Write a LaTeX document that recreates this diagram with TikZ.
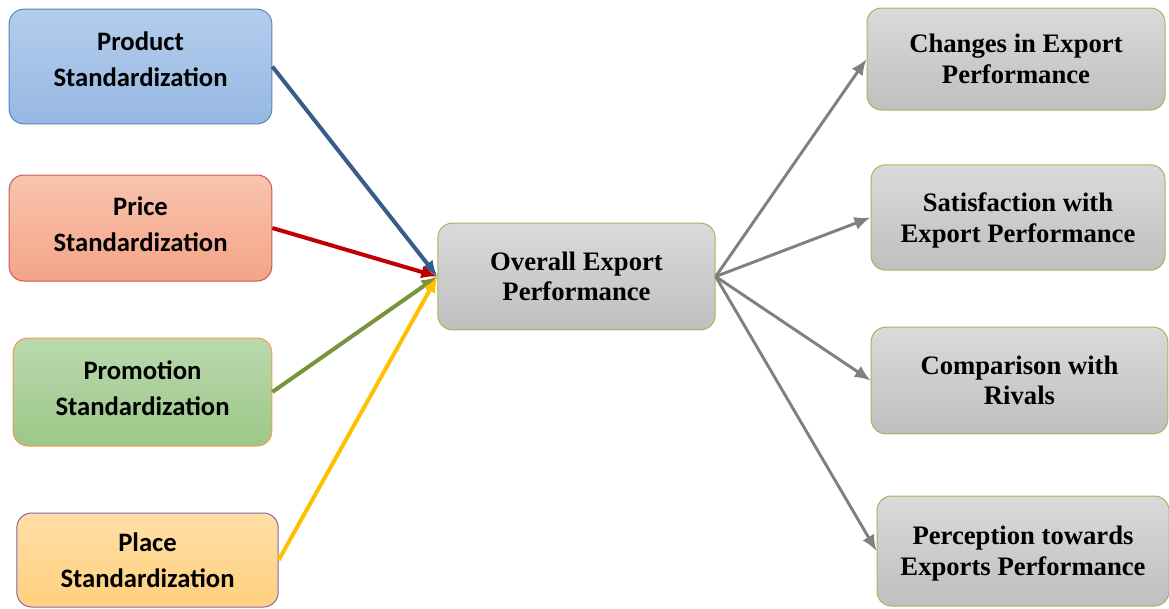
\documentclass[tikz,border=0pt]{standalone}
\usepackage{fontspec}
\setmainfont{Liberation Serif}
\newfontfamily\calibri{Carlito}
\usetikzlibrary{arrows.meta,positioning}
\definecolor{prodtop}{HTML}{B4CDEC}
\definecolor{prodbot}{HTML}{96B8E2}
\definecolor{prodline}{HTML}{5685C2}
\definecolor{pricetop}{HTML}{F8C4AF}
\definecolor{pricebot}{HTML}{F4A486}
\definecolor{priceline}{HTML}{C9595A}
\definecolor{promotop}{HTML}{BAD9AD}
\definecolor{promobot}{HTML}{9CC789}
\definecolor{promoline}{HTML}{F79A52}
\definecolor{placetop}{HTML}{FFDFA6}
\definecolor{placebot}{HTML}{FFD07E}
\definecolor{placeline}{HTML}{8467A6}
\definecolor{greytop}{HTML}{DADADA}
\definecolor{greybot}{HTML}{BFBFBF}
\definecolor{greyline}{HTML}{9BBB59}
\definecolor{arrblue}{HTML}{385D8A}
\definecolor{arrred}{HTML}{C00000}
\definecolor{arrgreen}{HTML}{77933C}
\definecolor{arryellow}{HTML}{FFC000}
\definecolor{arrgrey}{HTML}{808080}
\tikzset{%
	driver/.style  = {draw, rectangle, rounded corners=11pt, line width=0.75pt, align=center, inner sep=0pt,
	                  font=\calibri\bfseries\fontsize{20}{27}\selectfont},
	outcome/.style = {draw=greyline, rectangle, rounded corners=11pt, line width=0.75pt, align=center, inner sep=0pt,
	                  top color=greytop, bottom color=greybot, font=\bfseries\fontsize{20}{23}\selectfont},
	arrow/.style   = {line width=3pt, -{Latex[length=12pt,width=10pt]}},
	outarrow/.style= {line width=2.2pt, arrgrey, -{Latex[length=12pt,width=10pt]}},
}

\begin{document}
\begin{tikzpicture}[x=0.75pt,y=-0.75pt]
	\useasboundingbox (0,0) rectangle (1169,608);
	% marketing mix standardization
	\node[driver, draw=prodline, top color=prodtop, bottom color=prodbot, minimum width=197pt, minimum height=86pt, text depth=10.5pt] (prod) at (140.5,66.5) {Product\\Standardization};
	\node[driver, draw=priceline, top color=pricetop, bottom color=pricebot, minimum width=197pt, minimum height=79.5pt, text depth=6pt] (price) at (140.5,228) {Price\\Standardization};
	\node[driver, draw=promoline, top color=promotop, bottom color=promobot, minimum width=194pt, minimum height=81pt, text depth=6pt] (promo) at (142.5,392) {Promotion\\Standardization};
	\node[driver, draw=placeline, top color=placetop, bottom color=placebot, minimum width=196pt, minimum height=70.5pt] (place) at (147.5,560) {Place\\Standardization};
	% export performance
	\node[outcome, minimum width=208pt, minimum height=80pt] (overall) at (576.5,276.5) {Overall Export\\Performance};
	\node[outcome, minimum width=223.5pt, minimum height=76.5pt, text depth=0pt] (changes) at (1016,59) {Changes in Export\\Performance};
	\node[outcome, minimum width=220.5pt, minimum height=79pt, text depth=0pt] (satis) at (1018,217.5) {Satisfaction with\\Export Performance};
	\node[outcome, minimum width=222.5pt, minimum height=80pt] (rivals) at (1019.5,380.5) {Comparison with\\Rivals};
	\node[outcome, minimum width=219pt, minimum height=82.5pt, text depth=0pt] (percep) at (1023,551) {Perception towards\\Exports Performance};

	\draw[arrow, arrblue] (prod.east) -- (overall.west);
	\draw[arrow, arrred] (price.east) -- (overall.west);
	\draw[arrow, arrgreen] (promo.east) -- (overall.west);
	\draw[arrow, arryellow] (place.east) -- (overall.west);

	\draw[outarrow] (overall.east) -- (changes.west);
	\draw[outarrow] (overall.east) -- (satis.west);
	\draw[outarrow] (overall.east) -- (rivals.west);
	\draw[outarrow] (overall.east) -- (percep.west);
\end{tikzpicture}
\end{document}
